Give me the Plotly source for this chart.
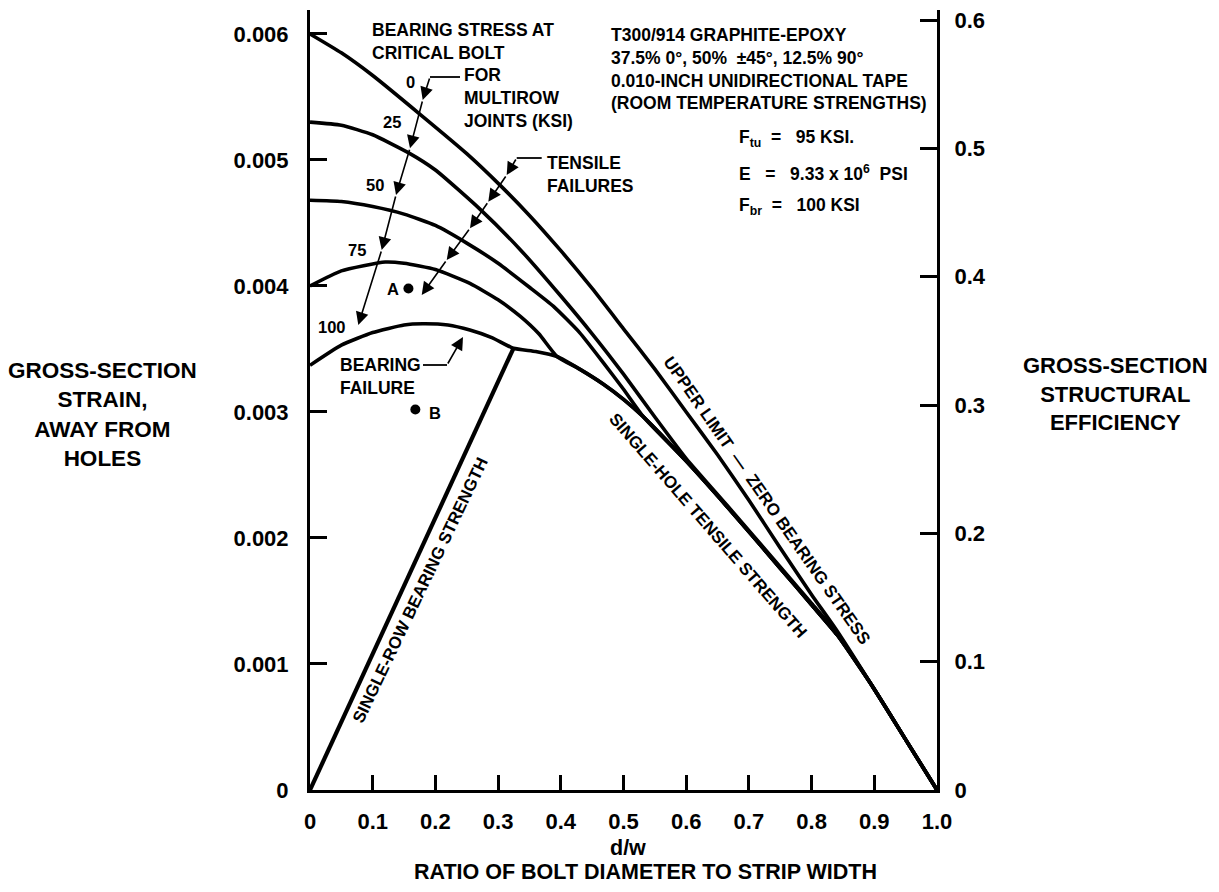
import plotly.graph_objects as go

# ---------------- data ----------------
# Upper limit - zero bearing stress (0 ksi curve)
d_0 = [0.0, 0.05, 0.1, 0.176, 0.25, 0.303, 0.35, 0.4, 0.45, 0.5, 0.55, 0.6, 0.65, 0.7, 0.75, 0.8, 0.841, 0.9, 0.95, 1.0]
s_0 = [0.00600, 0.00585, 0.00567, 0.00536, 0.00505, 0.00480, 0.00456, 0.00428, 0.00398, 0.00366, 0.00334, 0.00300, 0.00266, 0.00230, 0.00192, 0.00155, 0.00126, 0.00080, 0.00040, 0.0]

# 25 ksi curve
d_25 = [0.0, 0.05, 0.1, 0.156, 0.2, 0.271, 0.335, 0.4, 0.45, 0.5, 0.55, 0.6, 0.665, 0.75, 0.8, 0.841, 0.9, 0.95, 1.0]
s_25 = [0.00530, 0.005275, 0.00520, 0.00506, 0.00492, 0.00461, 0.00429, 0.00392, 0.00362, 0.00330, 0.00296, 0.00263, 0.00226, 0.00177, 0.00148, 0.00124, 0.00080, 0.00040, 0.0]

# 50 ksi curve
d_50 = [0.0, 0.05, 0.1, 0.15, 0.2, 0.25, 0.3, 0.35, 0.388, 0.43, 0.468, 0.5, 0.532, 0.6, 0.665, 0.75, 0.8, 0.841, 0.9, 0.95, 1.0]
s_50 = [0.00468, 0.00467, 0.00463, 0.00457, 0.00448, 0.00434, 0.00418, 0.00399, 0.00384, 0.00363, 0.00339, 0.00318, 0.00296, 0.00261, 0.00225, 0.00176, 0.00147, 0.00123, 0.00080, 0.00040, 0.0]

# 75 ksi curve
d_75 = [0.0, 0.05, 0.12, 0.15, 0.2, 0.255, 0.3, 0.335, 0.365, 0.394, 0.43, 0.468, 0.5, 0.532, 0.6, 0.665, 0.75, 0.8, 0.841, 0.9, 0.95, 1.0]
s_75 = [0.00400, 0.00412, 0.00419, 0.00418, 0.00413, 0.00402, 0.00389, 0.00376, 0.00362, 0.00344, 0.00334, 0.00322, 0.00310, 0.00296, 0.00261, 0.00225, 0.00176, 0.00147, 0.00123, 0.00080, 0.00040, 0.0]

# 100 ksi curve (bearing region) continuing as single-hole tensile strength
d_100 = [0.0, 0.05, 0.1, 0.15, 0.18, 0.22, 0.255, 0.29, 0.3245, 0.36, 0.394, 0.43, 0.468, 0.5, 0.532, 0.6, 0.665, 0.75, 0.8, 0.841, 0.9, 0.95, 1.0]
s_100 = [0.00337, 0.00353, 0.00363, 0.00369, 0.00370, 0.00369, 0.00365, 0.00359, 0.003505, 0.00348, 0.00344, 0.00334, 0.00322, 0.00310, 0.00296, 0.00261, 0.00225, 0.00176, 0.00147, 0.00123, 0.00080, 0.00040, 0.0]

# Single-row bearing strength line
d_br = [0.0, 0.3245]
s_br = [0.0, 0.003505]

# Points A and B
pt_labels = ["A", "B"]
pt_d = [0.157, 0.168]
pt_s = [0.00398, 0.00302]

x_ticks = [0, 0.1, 0.2, 0.3, 0.4, 0.5, 0.6, 0.7, 0.8, 0.9, 1.0]
x_ticktext = ["0", "0.1", "0.2", "0.3", "0.4", "0.5", "0.6", "0.7", "0.8", "0.9", "1.0"]
y_ticks = [0, 0.001, 0.002, 0.003, 0.004, 0.005, 0.006]
y_ticktext = ["0", "0.001", "0.002", "0.003", "0.004", "0.005", "0.006"]
y2_ticks = [0, 0.1, 0.2, 0.3, 0.4, 0.5, 0.6]
y2_ticktext = ["0", "0.1", "0.2", "0.3", "0.4", "0.5", "0.6"]

E_OVER_FTU = 9.33e6 / 95000.0   # efficiency = strain * E / Ftu

# ---------------- layout geometry (reference pixels) ----------------
W, H = 1219, 892
OFF = 8                      # page body margin
L, R, T, B = 310, 937, 10, 790
Y_MAX = 0.00619
FONT = "Liberation Sans, Arial, sans-serif"

def P(px, py):
    """reference pixel -> data coordinates (for label placement)"""
    return (px - L) / (R - L), (B - py) / (B - T) * Y_MAX

def PP(px, py):
    """reference pixel -> paper coordinates"""
    return (px - L) / (R - L), (B - py) / (B - T)

fig = go.Figure()
for dd, ss in [(d_0, s_0), (d_25, s_25), (d_50, s_50), (d_75, s_75), (d_100, s_100)]:
    fig.add_trace(go.Scatter(x=dd, y=ss, mode="lines",
                             line=dict(color="black", width=3.6, shape="spline", smoothing=0.5),
                             hoverinfo="skip", showlegend=False))
fig.add_trace(go.Scatter(x=d_br, y=s_br, mode="lines", line=dict(color="black", width=4.2), showlegend=False))
fig.add_trace(go.Scatter(x=pt_d, y=pt_s, mode="markers", marker=dict(color="black", size=10), showlegend=False))
# invisible trace to activate right axis
fig.add_trace(go.Scatter(x=[0], y=[0], yaxis="y2", mode="markers", marker=dict(opacity=0),
                         showlegend=False, hoverinfo="skip"))

ann = []
def text(px, py, s, size=17.5, xanchor="left", yanchor="middle", angle=0, align="left"):
    x, y = P(px, py)
    ann.append(dict(x=x, y=y, xref="x", yref="y", text=s, showarrow=False, xanchor=xanchor, yanchor=yanchor,
                    textangle=angle, align=align,
                    font=dict(family=FONT, size=size, color="black", weight="bold")))

def chain(pts):
    for (x0p, y0p), (x1p, y1p) in zip(pts[:-1], pts[1:]):
        x0, y0 = P(x0p, y0p)
        x1, y1 = P(x1p, y1p)
        ann.append(dict(x=x1, y=y1, ax=x0, ay=y0, xref="x", yref="y", axref="x", ayref="y", text="",
                        showarrow=True, arrowhead=2, arrowsize=1.6, arrowwidth=1.6,
                        arrowcolor="black", standoff=0))

shapes = []
def seg(p0, p1):
    x0, y0 = P(*p0)
    x1, y1 = P(*p1)
    shapes.append(dict(type="line", xref="x", yref="y", x0=x0, y0=y0, x1=x1, y1=y1,
                       line=dict(color="black", width=1.8)))

# labels in the plot
text(370, 41, "BEARING STRESS AT<br>CRITICAL BOLT")
text(462, 98, "FOR<br>MULTIROW<br>JOINTS (KSI)")
text(545, 174, "TENSILE<br>FAILURES")
text(338, 376, "BEARING<br>FAILURE")
text(410, 82, "0", size=16.5, xanchor="center")
text(392, 122, "25", size=16.5, xanchor="center")
text(375, 185, "50", size=16.5, xanchor="center")
text(357, 250, "75", size=16.5, xanchor="center")
text(332, 327, "100", size=16.5, xanchor="center")
text(393, 289, pt_labels[0], size=16.5, xanchor="center")
text(435, 413, pt_labels[1], size=16.5, xanchor="center")
text(609, 69, "T300/914 GRAPHITE-EPOXY<br>37.5% 0°, 50%  ±45°, 12.5% 90°<br>"
              "0.010-INCH UNIDIRECTIONAL TAPE<br>(ROOM TEMPERATURE STRENGTHS)")
text(737, 138, "F<sub>tu</sub>  =   95 KSI.")
text(737, 173, "E   =   9.33 x 10<sup>6</sup>  PSI")
text(737, 206, "F<sub>br</sub>  =   100 KSI")
text(767, 500, "UPPER LIMIT  —  ZERO BEARING STRESS", size=17, xanchor="center", angle=55)
text(708, 525, "SINGLE-HOLE TENSILE STRENGTH", size=17, xanchor="center", angle=49)
text(420, 590, "SINGLE-ROW BEARING STRENGTH", size=17, xanchor="center", angle=-64.5)

# leaders
seg((460, 77), (430, 77))
chain([(430, 77), (422.7, 100), (410, 148.3), (396, 195), (381.7, 250), (358.3, 325)])
seg((541.7, 158), (516.7, 158))
chain([(516.7, 158), (506.7, 175), (488.3, 201.7), (470, 228.3), (446.7, 260), (421.7, 295)])
seg((423, 365), (447, 365))
chain([(447, 365), (463, 337)])

# axis titles
for s, x, y, fs in [("GROSS-SECTION<br>STRAIN,<br>AWAY FROM<br>HOLES", 102, 415, 22.5),
                    ("GROSS-SECTION<br>STRUCTURAL<br>EFFICIENCY", 1115, 394, 22),
                    ("d/w", 628, 848, 21.5),
                    ("RATIO OF BOLT DIAMETER TO STRIP WIDTH", 645, 872, 21.5)]:
    xp, yp = PP(x, y)
    ann.append(dict(x=xp, y=yp, xref="paper", yref="paper", text=s, showarrow=False,
                    xanchor="center", yanchor="middle", align="center",
                    font=dict(family=FONT, size=fs, color="black", weight="bold")))

axis_common = dict(showline=True, linecolor="black", linewidth=3, ticks="inside", tickcolor="black",
                   tickwidth=2.5, showgrid=False, zeroline=False, ticklabeloverflow="allow",
                   tickfont=dict(family=FONT, size=22, color="black", weight="bold"))
fig.update_layout(
    width=W, height=H, paper_bgcolor="white", plot_bgcolor="white",
    margin=dict(l=L - OFF, r=W - R + OFF, t=T - OFF, b=H - B + OFF, autoexpand=False),
    xaxis=dict(range=[0, 1.0], tickvals=x_ticks, ticktext=x_ticktext, ticklen=15,
               ticklabelstandoff=10, **axis_common),
    yaxis=dict(range=[0, Y_MAX], tickvals=y_ticks, ticktext=y_ticktext, ticklen=17,
               ticklabelstandoff=14, **axis_common),
    yaxis2=dict(range=[0, Y_MAX * E_OVER_FTU], overlaying="y", side="right", tickvals=y2_ticks,
                ticktext=y2_ticktext, ticklen=17, ticklabelstandoff=10, **axis_common),
    annotations=ann, shapes=shapes, showlegend=False,
)
fig.write_html("out.html")
